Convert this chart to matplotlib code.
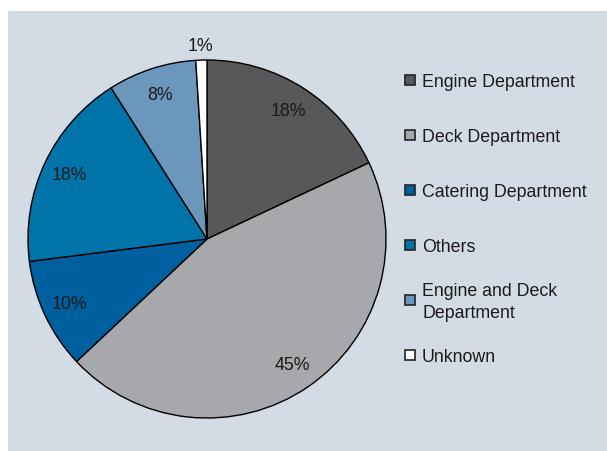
import matplotlib.pyplot as plt
from matplotlib.patches import Rectangle

labels = [
    "Engine Department",
    "Deck Department",
    "Catering Department",
    "Others",
    "Engine and Deck\nDepartment",
    "Unknown",
]
shares = [18, 45, 10, 18, 8, 1]
colors = ["#58585a", "#a6a8ab", "#005f9e", "#0074a8", "#6c97bd", "#ffffff"]

BG = "#d3dce5"
FONT = "Liberation Sans"
FS = 12.8
W, H = 607, 452

fig = plt.figure(figsize=(W / 100, H / 100), dpi=100)
fig.patch.set_facecolor("white")

# Panel background
fig.patches.append(
    Rectangle((8 / W, 0), 1 - 8 / W, (H - 12) / H, transform=fig.transFigure,
              facecolor=BG, edgecolor="none", zorder=-1)
)

# Pie: centre (207, 240) px, radius 179 px
r = 179
ax = fig.add_axes([(207 - r) / W, (H - 240 - r) / H, 2 * r / W, 2 * r / H])
ax.set_zorder(2)
ax.set_facecolor("none")
wedges, texts, autotexts = ax.pie(
    shares,
    colors=colors,
    startangle=90,
    counterclock=False,
    autopct=lambda p: f"{p:.0f}%",
    pctdistance=0.85,
    wedgeprops=dict(edgecolor="black", linewidth=1.0),
    textprops=dict(fontfamily=FONT, fontsize=FS, color="#1a1a1a"),
    radius=1.0,
)
ax.set_xlim(-1, 1)
ax.set_ylim(-1, 1)
ax.set_aspect("equal")

# 1% label sits outside the pie
t = autotexts[-1]
x, y = t.get_position()
t.set_position((x / 0.85 * 1.08, y / 0.85 * 1.08))

# Legend drawn by hand so rows are evenly spaced
row0, step = 81, 55
for i, (lab, col) in enumerate(zip(labels, colors)):
    yc = row0 + i * step
    sq = 10
    fig.patches.append(
        Rectangle((405 / W, (H - yc - sq / 2) / H), sq / W, sq / H,
                  transform=fig.transFigure, facecolor=col,
                  edgecolor="#222222", linewidth=1.2, zorder=3)
    )
    fig.text(422 / W, (H - yc - 1.5) / H, lab, ha="left", va="center",
             fontfamily=FONT, fontsize=FS, color="#1a1a1a",
             linespacing=1.45)

fig.savefig("out.png", dpi=100)
